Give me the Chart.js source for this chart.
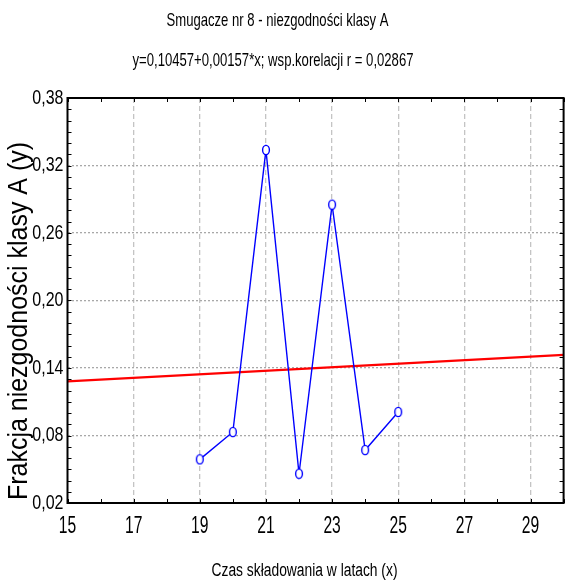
<!DOCTYPE html>
<html>
<head>
<meta charset="utf-8">
<script src="https://cdn.jsdelivr.net/npm/chart.js@4/dist/chart.umd.min.js"></script>
<style>
  html, body { margin: 0; padding: 0; background: #fff; }
  #wrap { width: 570px; height: 584px; }
</style>
</head>
<body>
<div id="wrap"><canvas id="c" width="570" height="584"></canvas></div>
<script>
// Storage time (years) and class-A nonconformity fraction for slide gates no. 8
const years = [19, 20, 21, 22, 23, 24, 25];
const fractionA = [0.0588, 0.0831, 0.3338, 0.0460, 0.2852, 0.0671, 0.1009];

// Fitted regression y = a + b*x
const intercept = 0.10457;
const slope = 0.00157;
const fitRange = [15, 30];

// Axis ticks
const xTicks = [15, 17, 19, 21, 23, 25, 27, 29];
const yTicks = [0.02, 0.08, 0.14, 0.20, 0.26, 0.32, 0.38];

const titleLines = [
  'Smugacze nr 8 - niezgodności klasy A',
  'y=0,10457+0,00157*x; wsp.korelacji r = 0,02867'
];
const xTitle = 'Czas składowania w latach (x)';
const yTitle = 'Frakcja niezgodności klasy A (y)';

const FONT = "'Liberation Sans', Arial, sans-serif";
const comma = v => v.toFixed(2).replace('.', ',');

const points = years.map((x, i) => ({ x, y: fractionA[i] }));
const fitLine = fitRange.map(x => ({ x, y: intercept + slope * x }));

// Open oval marker
const marker = (() => {
  const c = document.createElement('canvas');
  c.width = 10; c.height = 12;
  const g = c.getContext('2d');
  g.beginPath();
  g.ellipse(5, 6, 3.4, 4.6, 0, 0, Math.PI * 2);
  g.fillStyle = '#fff';
  g.fill();
  g.lineWidth = 1.4;
  g.strokeStyle = '#0000ff';
  g.stroke();
  return c;
})();

// Condensed text: draw with a horizontal squeeze (sx) or squeezed to a width
function drawText(ctx, text, x, y, size, opts) {
  const o = opts || {};
  ctx.save();
  ctx.font = size + 'px ' + FONT;
  const w = ctx.measureText(text).width;
  const sx = o.width ? o.width / w : (o.sx || 1);
  ctx.translate(x, y);
  if (o.rotate) ctx.rotate(o.rotate);
  ctx.scale(sx, 1);
  ctx.textAlign = o.align || 'center';
  ctx.textBaseline = 'middle';
  ctx.fillStyle = '#000';
  ctx.fillText(text, 0, 0);
  ctx.restore();
}

// Frame, inward minor ticks, tick labels and titles
const decorations = {
  id: 'decorations',
  afterDraw(chart) {
    const { ctx, chartArea: a, scales: { x, y } } = chart;
    ctx.save();
    ctx.strokeStyle = '#000';
    ctx.lineWidth = 1;
    ctx.beginPath();
    for (let v = 15; v <= 30; v++) {
      const px = Math.round(x.getPixelForValue(v)) + 0.5;
      ctx.moveTo(px, a.bottom); ctx.lineTo(px, a.bottom - 4);
      ctx.moveTo(px, a.top); ctx.lineTo(px, a.top + 4);
    }
    for (let k = 2; k <= 38; k++) {
      const py = Math.round(y.getPixelForValue(k / 100)) + 0.5;
      ctx.moveTo(a.left, py); ctx.lineTo(a.left + 4, py);
      ctx.moveTo(a.right, py); ctx.lineTo(a.right - 4, py);
    }
    ctx.stroke();
    ctx.lineWidth = 2;
    ctx.strokeRect(a.left, a.top, a.right - a.left, a.bottom - a.top);
    ctx.restore();

    x.ticks.forEach(t => {
      drawText(ctx, String(t.value), x.getPixelForValue(t.value), 527, 23, { sx: 0.68 });
    });
    y.ticks.forEach(t => {
      drawText(ctx, comma(t.value), a.left - 4, y.getPixelForValue(t.value), 20, { sx: 0.8, align: 'right' });
    });

    drawText(ctx, titleLines[0], 277.5, 21, 19, { width: 222 });
    drawText(ctx, titleLines[1], 273, 61, 19, { width: 281 });
    drawText(ctx, xTitle, 304.5, 571, 18, { width: 186 });
    drawText(ctx, yTitle, 20, 321, 27, { width: 358, rotate: -Math.PI / 2 });
  }
};

new Chart(document.getElementById('c'), {
  type: 'scatter',
  data: {
    datasets: [
      {
        data: points,
        showLine: true,
        borderColor: '#0000ff',
        borderWidth: 1.4,
        pointStyle: marker,
        pointRadius: 5,
        pointHoverRadius: 5,
        tension: 0,
        order: 1
      },
      {
        data: fitLine,
        showLine: true,
        borderColor: '#ff0000',
        borderWidth: 2.4,
        pointRadius: 0,
        order: 2
      }
    ]
  },
  options: {
    responsive: false,
    animation: false,
    devicePixelRatio: 1,
    layout: { padding: { top: 98, right: 2, bottom: 0, left: 0 } },
    plugins: { legend: { display: false }, tooltip: { enabled: false } },
    scales: {
      x: {
        type: 'linear',
        min: 15, max: 30,
        afterBuildTicks: s => { s.ticks = xTicks.map(value => ({ value })); },
        afterFit: s => { s.height = 81; },
        border: { display: false, dash: [5, 3] },
        grid: {
          drawTicks: false,
          color: c => (c.tick && c.tick.value > 15 ? '#c4c4c4' : 'rgba(0,0,0,0)'),
          lineWidth: 1.3
        },
        ticks: { display: false }
      },
      y: {
        type: 'linear',
        min: 0.02, max: 0.38,
        afterBuildTicks: s => { s.ticks = yTicks.map(value => ({ value })); },
        afterFit: s => { s.width = 67.5; },
        border: { display: false, dash: [2, 2] },
        grid: {
          drawTicks: false,
          color: c => (c.tick && c.tick.value > 0.03 && c.tick.value < 0.37 ? '#a8a8a8' : 'rgba(0,0,0,0)'),
          lineWidth: 1.3
        },
        ticks: { display: false }
      }
    }
  },
  plugins: [decorations]
});
</script>
</body>
</html>
